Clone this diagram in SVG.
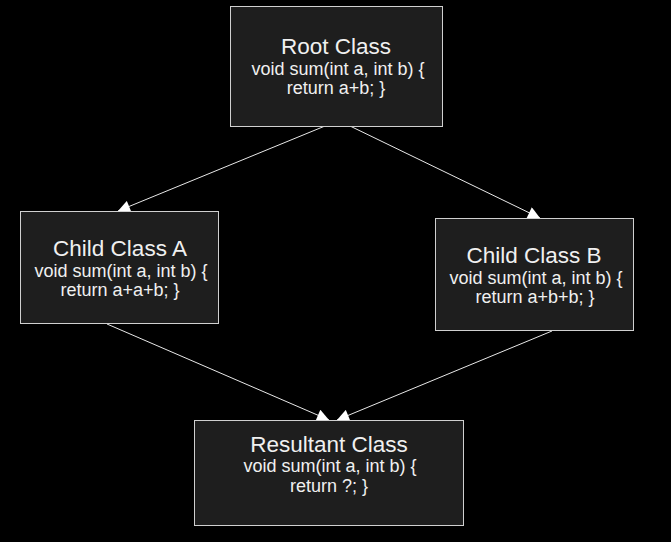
<svg xmlns="http://www.w3.org/2000/svg" width="671" height="542" viewBox="0 0 671 542">
<style>
.box{fill:#1e1e1e;stroke:#d0d0d0;stroke-width:1}
.t{font-family:"Liberation Sans",Arial,sans-serif;fill:#f0f0f0;text-anchor:middle}
.h{font-size:22.5px}
.b{font-size:18px}
.e{stroke:#e8e8e8;stroke-width:1;fill:none;marker-end:url(#ah)}
</style>
<defs>
<marker id="ah" viewBox="0 0 10 10" refX="10" refY="5" markerWidth="15" markerHeight="12" markerUnits="userSpaceOnUse" orient="auto">
<path d="M0,0 L10,5 L0,10 z" fill="#ffffff"/>
</marker>
</defs>
<rect width="671" height="542" fill="#000"/>
<g id="edges">
<line class="e" x1="325" y1="126" x2="118" y2="211"/>
<line class="e" x1="350" y1="126" x2="540" y2="218"/>
<line class="e" x1="107" y1="324" x2="329" y2="420"/>
<line class="e" x1="552" y1="331" x2="337" y2="420"/>
</g>
<g id="root">
<rect class="box" x="230.5" y="6.5" width="212" height="120"/>
<text class="t h" x="336" y="54">Root Class</text>
<text class="t b" x="338" y="75">void sum(int a, int b) {</text>
<text class="t b" x="336" y="94">return a+b; }</text>
</g>
<g id="childA">
<rect class="box" x="20.5" y="211.5" width="198" height="112"/>
<text class="t h" x="120" y="256">Child Class A</text>
<text class="t b" x="121" y="277">void sum(int a, int b) {</text>
<text class="t b" x="120" y="296">return a+a+b; }</text>
</g>
<g id="childB">
<rect class="box" x="435.5" y="218.5" width="198" height="112"/>
<text class="t h" x="534" y="263">Child Class B</text>
<text class="t b" x="536" y="284">void sum(int a, int b) {</text>
<text class="t b" x="535" y="303">return a+b+b; }</text>
</g>
<g id="resultant">
<rect class="box" x="194.5" y="420.5" width="269" height="105"/>
<text class="t h" x="329" y="452">Resultant Class</text>
<text class="t b" x="330" y="472">void sum(int a, int b) {</text>
<text class="t b" x="329" y="492">return ?; }</text>
</g>
</svg>
